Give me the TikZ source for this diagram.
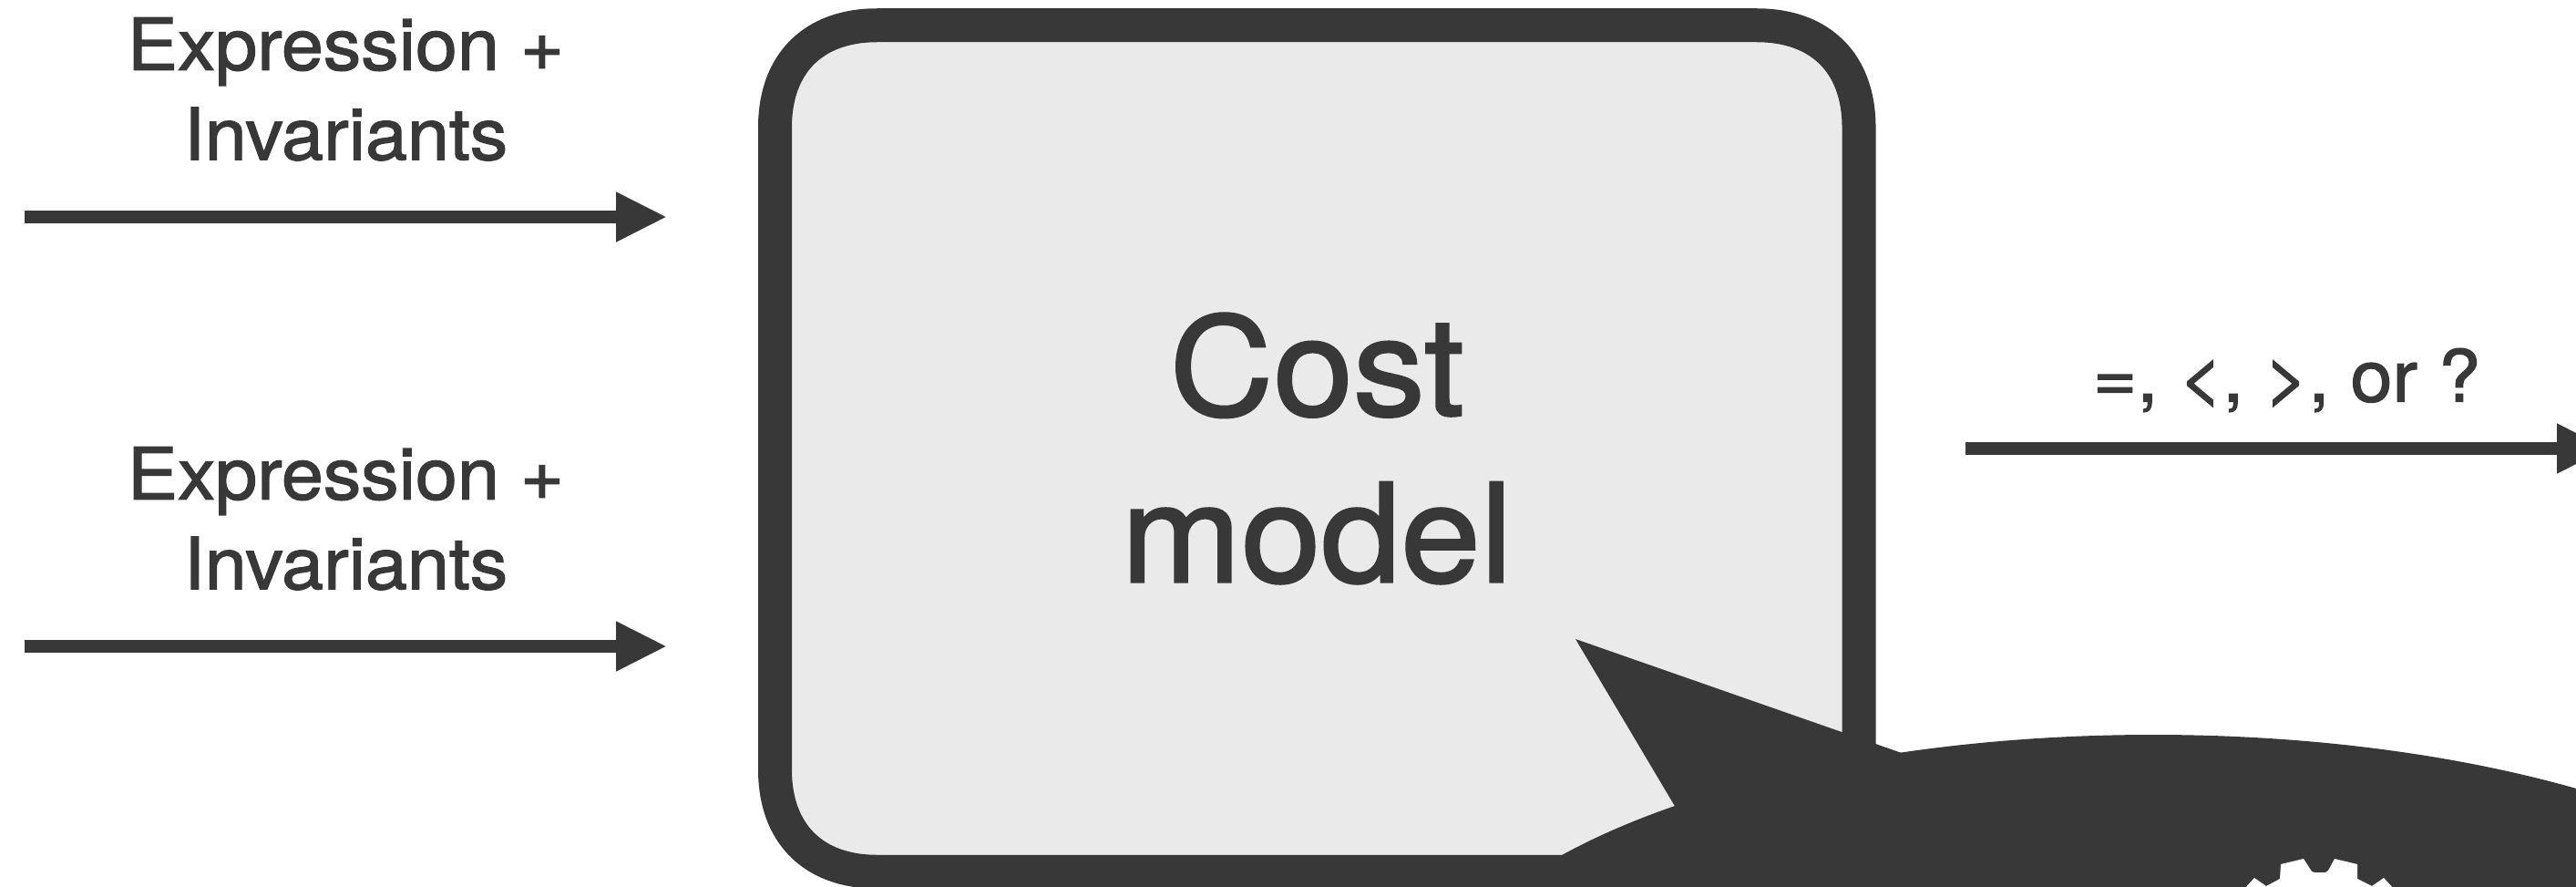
\documentclass[tikz,border=0pt]{standalone}
\usepackage{fontspec}
\setmainfont{TeX Gyre Heros}[FakeBold=1.6, FakeStretch=1.05]
\usetikzlibrary{shapes.geometric, arrows.meta, positioning, backgrounds}
\definecolor{ink}{HTML}{383838}
\definecolor{boxbg}{HTML}{EAEAEA}
\tikzset{
    modelbox/.style={rectangle, minimum width=11.895cm, minimum height=9.285cm, align=center, inner sep=0pt, outer sep=0pt, text=ink, font=\fontsize{42.7}{52}\selectfont},
    modeloutline/.style={draw=ink, fill=boxbg, line width=0.37cm},
    bubble/.style={ellipse, fill=ink, minimum width=16cm, minimum height=6.36cm, inner sep=0pt},
    arrow/.style={-{Triangle[length=0.56cm, width=0.51cm]}, line width=0.137cm, color=ink},
    arrowlabel/.style={align=center, inner sep=0pt, outer sep=0pt, text=ink, font=\fontsize{22.4}{28}\selectfont}
}
\begin{document}
\begin{tikzpicture}
    \path [use as bounding box, clip] (0,0) rectangle (28.27,9.72);

    % Nodes
    \node [modelbox] (costmodel) at (14.4525,4.80) {Cost\\model};
    \coordinate (topstart) at (0.27,7.34);
    \coordinate (topend) at (7.32,7.34);
    \coordinate (lowstart) at (0.27,2.63);
    \coordinate (lowend) at (7.32,2.63);
    \coordinate [right=1.17cm of costmodel.east] (resultstart);
    \coordinate (resultend) at (28.62,4.80);

    % Box outline
    \begin{scope}[on background layer]
        \draw [modeloutline] ([xshift=1.12cm]costmodel.north west) -- ([xshift=-1.12cm]costmodel.north east)
            .. controls ([xshift=-0.42cm]costmodel.north east) and ([yshift=-0.42cm]costmodel.north east) .. ([yshift=-1.12cm]costmodel.north east)
            -- ([yshift=1.12cm]costmodel.south east)
            .. controls ([yshift=0.42cm]costmodel.south east) and ([xshift=-0.42cm]costmodel.south east) .. ([xshift=-1.12cm]costmodel.south east)
            -- ([xshift=1.12cm]costmodel.south west)
            .. controls ([xshift=0.42cm]costmodel.south west) and ([yshift=0.42cm]costmodel.south west) .. ([yshift=1.12cm]costmodel.south west)
            -- ([yshift=-1.12cm]costmodel.north west)
            .. controls ([yshift=-0.42cm]costmodel.north west) and ([xshift=0.42cm]costmodel.north west) .. cycle;
    \end{scope}

    % Arrows
    \draw [arrow] (topstart) -- node [arrowlabel, above=0.617cm] (toplabel) {Expression +\\Invariants} (topend);
    \draw [arrow] (lowstart) -- node [arrowlabel, above=0.617cm] (lowlabel) {Expression +\\Invariants} (lowend);
    \draw [arrow] (resultstart) -- node [arrowlabel, above=0.40cm] (resultlabel) {=, <, >, or ?} (resultend);

    % Speech bubble
    \node [bubble] (thought) at (23.63,-1.52) {};
    \coordinate (tailtip) at (17.29,2.71);
    \fill [ink] (tailtip) -- (20.87,1.46) -- (thought.center) -- (18.39,0.86) -- cycle;

    % Gear
    \fill [white] (24.63,-0.03) -- (24.74,0.09) -- (24.87,0.00) -- (25.02,0.08) -- (25.03,0.24) -- (25.28,0.30) -- (25.37,0.16) -- (25.40,0.15) -- (25.52,0.15) -- (25.55,0.17) -- (25.62,0.30) -- (25.87,0.24) -- (25.87,0.08) -- (26.03,0.00) -- (26.16,0.09) -- (26.27,-0.03) -- cycle;
\end{tikzpicture}
\end{document}
